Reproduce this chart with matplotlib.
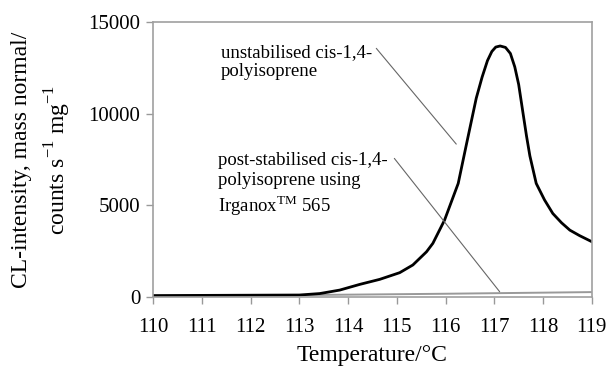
"""
CL-intensity versus temperature for unstabilised and post-stabilised cis-1,4-polyisoprene.
"""

import matplotlib
matplotlib.use("Agg")
import matplotlib.pyplot as plt

# unstabilised sample
temp_unstab = [110.0, 110.5, 111.0, 111.5, 112.0, 112.5, 113.0, 113.42, 113.83, 114.24,
               114.65, 115.06, 115.33, 115.61, 115.74, 115.98, 116.26, 116.43,
               116.63, 116.75, 116.86, 116.95, 117.03, 117.12, 117.23, 117.33, 117.42,
               117.5, 117.59, 117.66, 117.73, 117.86, 118.03, 118.2, 118.38, 118.55,
               118.75, 119.0]
cl_unstab = [80, 85, 90, 95, 100, 105, 110, 190, 380, 690,
             965, 1330, 1750, 2470, 2930, 4200, 6200, 8350,
             10850, 12000, 12900, 13400, 13640, 13700, 13620, 13290, 12560,
             11600, 10020, 8800, 7700, 6200, 5300, 4560, 4050, 3650,
             3350, 3020]

# post-stabilised sample with Irganox 565
temp_stab = [110.0, 112.0, 114.0, 116.0, 117.0, 118.0, 119.0]
cl_stab = [60, 90, 130, 180, 210, 240, 270]

x_ticks = list(range(110, 120))
y_ticks = [0, 5000, 10000, 15000]

plt.rcParams["font.family"] = ["Liberation Serif", "DejaVu Serif"]
plt.rcParams["mathtext.fontset"] = "custom"
plt.rcParams["mathtext.rm"] = "Liberation Serif"

fig = plt.figure(figsize=(6.12, 3.69), dpi=100)
ax = fig.add_axes([0.25, 0.195, 0.717, 0.745])

ax.plot(temp_stab, cl_stab, color="#999999", lw=1.4)
ax.plot(temp_unstab, cl_unstab, color="black", lw=2.0)

ax.set_xlim(110, 119)
ax.set_ylim(0, 15000)
ax.set_xticks(x_ticks)
ax.set_yticks(y_ticks)
ax.tick_params(axis="both", direction="out", length=5, width=1, color="#999999",
               labelsize=15, pad=4)
ax.tick_params(axis="x", pad=10)
for side in ax.spines.values():
    side.set_color("#a0a0a0")
    side.set_linewidth(1.2)

ax.set_xlabel("Temperature/°C", fontsize=17, labelpad=6)
ax.set_ylabel("CL-intensity, mass normal/\ncounts s$^{-1}$ mg$^{-1}$", fontsize=17,
              linespacing=1.45)
ax.yaxis.set_label_coords(-0.183, 0.5)

# labels and leader lines
ax.text(111.39, 12840, "unstabilised cis-1,4-\npolyisoprene", fontsize=13.5,
        ha="left", va="center", linespacing=1.15)
ax.text(111.34, 6110, "post-stabilised cis-1,4-\npolyisoprene using\nIrganox$^{\\rm TM}$ 565",
        fontsize=13.5, ha="left", va="center", linespacing=1.2)
ax.annotate("", xy=(116.22, 8345), xytext=(114.58, 13570),
            arrowprops=dict(arrowstyle="-", color="#666666", lw=0.8,
                            shrinkA=0, shrinkB=0))
ax.annotate("", xy=(117.11, 290), xytext=(114.95, 7565),
            arrowprops=dict(arrowstyle="-", color="#666666", lw=0.8,
                            shrinkA=0, shrinkB=0))

fig.savefig("out.png", dpi=100)
